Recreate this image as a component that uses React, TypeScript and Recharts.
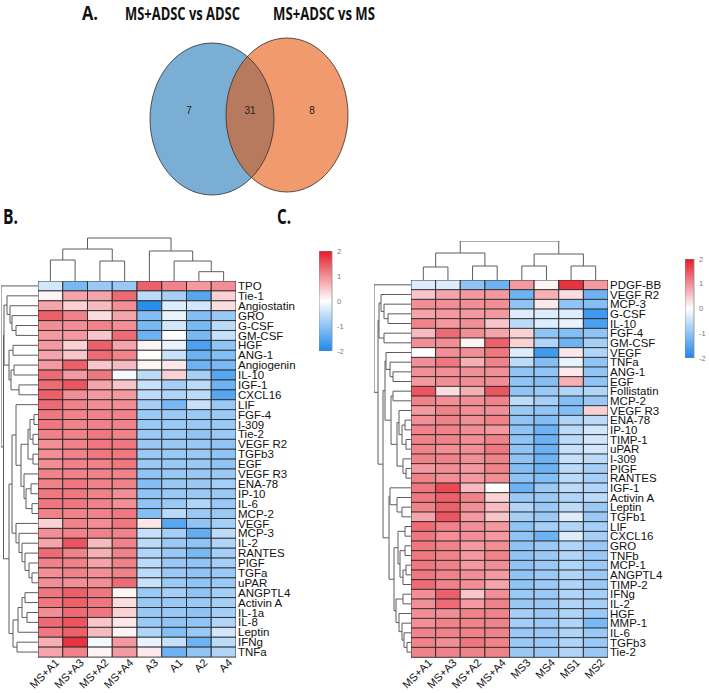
import React from "react";
import {
  Bar,
  BarChart,
  Cell,
  Line,
  LineChart,
  Scatter,
  ScatterChart,
  XAxis,
  YAxis,
} from "recharts";

// ---- Venn (panel A) ----
const setTitles = ["MS+ADSC vs ADSC", "MS+ADSC vs MS"];
const vennCounts = ["7", "31", "8"];

// ---- heatmap B: MS+ADSC vs ADSC ----
const colsB = ["MS+A1", "MS+A3", "MS+A2", "MS+A4", "A3", "A1", "A2", "A4"];
const rowsB = [
  "TPO", "Tie-1", "Angiostatin", "GRO", "G-CSF", "GM-CSF", "HGF", "ANG-1",
  "Angiogenin", "IL-10", "IGF-1", "CXCL16", "LIF", "FGF-4", "I-309", "Tie-2",
  "VEGF R2", "TGFb3", "EGF", "VEGF R3", "ENA-78", "IP-10", "IL-6", "MCP-2",
  "VEGF", "MCP-3", "IL-2", "RANTES", "PIGF", "TGFa", "uPAR", "ANGPTL4",
  "Activin A", "IL-1a", "IL-8", "Leptin", "IFNg", "TNFa",
];
const valuesB: number[][] = [
  [-0.4, -1.2, -0.9, -0.9, 1.4, 1.1, 0.9, 1.0],
  [0.1, 0.8, 0.8, 1.3, -0.6, -0.8, -1.5, 0.4],
  [0.8, 0.4, 0.6, 1.0, -1.9, -0.3, -0.4, 0.3],
  [1.4, 1.1, 0.3, 0.8, -1.1, -0.2, -1.1, -0.9],
  [1.0, 1.0, 1.1, 1.0, -1.2, -0.4, -1.2, -0.6],
  [0.9, 0.9, 0.5, 1.3, -1.3, 0.0, -1.2, -0.5],
  [0.9, 0.4, 1.4, 0.8, 0.1, -0.2, -1.6, -1.0],
  [0.8, 0.5, 1.3, 1.1, 0.0, -0.5, -1.3, -1.1],
  [0.9, 1.4, 0.5, 0.6, 0.1, 0.2, -1.3, -1.2],
  [1.3, 0.9, 1.2, -0.1, -0.6, 0.4, -0.8, -1.5],
  [1.3, 1.5, 0.8, 0.5, -0.5, -0.8, -0.6, -1.3],
  [1.4, 1.0, 0.9, 0.9, -0.6, -0.7, -0.6, -1.5],
  [1.3, 1.1, 1.0, 1.0, -0.8, -1.2, -0.5, -0.9],
  [1.2, 1.1, 1.1, 1.1, -0.9, -0.9, -0.9, -0.9],
  [1.2, 1.1, 1.1, 1.1, -0.9, -0.9, -0.9, -0.9],
  [1.1, 1.1, 1.2, 1.1, -0.9, -0.9, -1.0, -0.9],
  [1.0, 1.1, 1.2, 1.2, -0.9, -0.9, -0.9, -1.0],
  [1.0, 1.1, 1.2, 1.2, -0.9, -0.9, -0.9, -1.0],
  [1.0, 1.1, 1.1, 1.2, -0.9, -0.9, -0.9, -1.0],
  [1.1, 1.1, 1.1, 1.1, -1.0, -0.9, -0.9, -0.9],
  [1.1, 1.2, 1.1, 1.1, -1.1, -0.9, -0.9, -0.8],
  [1.2, 1.2, 1.1, 1.0, -1.0, -0.9, -0.9, -0.9],
  [1.2, 1.2, 1.1, 1.0, -1.0, -0.9, -0.7, -0.9],
  [1.1, 1.1, 1.1, 1.2, -1.1, -0.6, -0.9, -0.9],
  [0.4, 1.1, 1.0, 1.2, 0.2, -1.5, -1.0, -0.8],
  [1.0, 1.1, 1.1, 1.1, -0.5, -0.8, -1.4, -0.6],
  [0.8, 1.5, 0.6, 1.1, -0.6, -0.9, -1.0, -0.7],
  [1.3, 1.1, 0.7, 1.1, -0.7, -0.9, -1.2, -0.8],
  [1.1, 1.1, 0.8, 1.1, -0.6, -0.9, -1.0, -0.8],
  [1.0, 1.1, 1.0, 1.1, -0.6, -0.9, -1.0, -0.9],
  [1.0, 1.0, 1.0, 1.3, -0.5, -0.9, -1.0, -0.9],
  [1.2, 1.4, 1.2, 0.1, -0.9, -0.8, -1.0, -0.8],
  [1.2, 1.4, 1.2, 0.3, -0.9, -0.9, -0.9, -0.8],
  [1.0, 1.3, 1.2, 0.4, -0.9, -0.9, -1.0, -0.8],
  [1.3, 1.5, 0.5, 0.2, -0.9, -1.0, -1.0, -0.7],
  [1.2, 1.4, 0.6, 0.1, -0.7, -1.1, -0.9, -0.4],
  [0.7, 1.8, -0.1, 0.9, -0.2, -0.5, -1.3, -0.6],
  [0.8, 1.1, 0.1, 0.9, 0.2, -1.3, -1.0, -0.7],
];

// ---- heatmap C: MS+ADSC vs MS ----
const colsC = ["MS+A1", "MS+A3", "MS+A2", "MS+A4", "MS3", "MS4", "MS1", "MS2"];
const rowsC = [
  "PDGF-BB", "VEGF R2", "MCP-3", "G-CSF", "IL-10", "FGF-4", "GM-CSF", "VEGF",
  "TNFa", "ANG-1", "EGF", "Follistatin", "MCP-2", "VEGF R3", "ENA-78", "IP-10",
  "TIMP-1", "uPAR", "I-309", "PIGF", "RANTES", "IGF-1", "Activin A", "Leptin",
  "TGFb1", "LIF", "CXCL16", "GRO", "TNFb", "MCP-1", "ANGPTL4", "TIMP-2",
  "IFNg", "IL-2", "HGF", "MMP-1", "IL-6", "TGFb3", "Tie-2",
];
const valuesC: number[][] = [
  [-0.3, -0.3, -1.0, -1.3, 0.9, 0.1, 1.8, 0.9],
  [0.5, 0.8, 0.9, 0.9, -1.3, 0.7, 0.3, -1.3],
  [1.0, 1.0, 1.0, 1.0, -1.0, 0.2, -1.0, -1.1],
  [0.8, 0.9, 0.9, 0.9, -0.3, -0.3, -0.3, -1.7],
  [1.1, 0.9, 1.0, 0.5, -0.6, -0.3, -0.2, -1.6],
  [0.6, 1.3, 1.0, 0.8, 0.4, -1.0, -1.1, -1.0],
  [1.0, 1.0, 0.1, 1.4, 0.4, -0.7, -1.3, -0.8],
  [0.0, 1.0, 1.0, 1.2, -0.3, -1.7, 0.2, -0.7],
  [1.0, 1.2, 0.7, 1.1, -0.6, -1.1, -0.2, -1.0],
  [1.0, 1.0, 1.0, 1.0, -1.0, -1.0, 0.2, -1.0],
  [0.9, 1.0, 1.0, 1.0, -1.0, -1.1, 0.7, -1.0],
  [1.5, 0.3, 0.7, 1.5, -1.0, -0.9, -0.7, -0.7],
  [1.1, 1.0, 1.0, 1.1, -0.6, -0.8, -1.1, -0.9],
  [0.9, 1.1, 1.0, 1.0, -0.9, -1.0, -1.1, 0.4],
  [1.0, 1.1, 1.0, 1.1, -1.0, -1.1, -0.7, -0.6],
  [1.1, 1.1, 1.0, 0.9, -1.0, -1.3, -0.6, -0.4],
  [1.1, 1.1, 1.0, 1.1, -1.0, -1.3, -0.6, -0.4],
  [1.1, 1.0, 1.0, 1.2, -1.0, -1.3, -0.5, -0.4],
  [1.1, 1.1, 1.0, 1.1, -1.0, -1.3, -0.5, -0.6],
  [0.9, 1.0, 0.9, 1.1, -1.1, -1.3, -0.6, -0.8],
  [1.1, 1.0, 0.9, 1.0, -1.0, -1.1, -0.6, -0.8],
  [1.2, 1.6, 0.6, 0.0, -1.3, -0.9, -0.6, -0.7],
  [1.2, 1.4, 1.1, 0.4, -0.9, -0.9, -0.7, -0.6],
  [1.1, 1.4, 1.0, 0.6, -0.7, -0.9, -0.6, -0.9],
  [0.8, 1.5, 0.9, 0.5, -0.8, -0.9, -0.3, -0.9],
  [1.3, 1.1, 1.0, 0.9, -1.0, -0.8, -0.7, -0.8],
  [1.2, 1.0, 1.0, 0.9, -1.0, -1.3, -0.3, -0.8],
  [1.2, 1.1, 0.9, 1.0, -1.0, -0.9, -0.7, -0.9],
  [1.2, 1.1, 0.9, 1.1, -1.0, -0.9, -0.7, -0.9],
  [1.2, 1.1, 0.9, 1.0, -1.0, -0.9, -0.7, -0.9],
  [1.2, 1.1, 1.0, 0.9, -1.0, -0.9, -0.7, -0.9],
  [1.3, 1.1, 1.0, 0.8, -1.0, -0.9, -0.7, -0.9],
  [1.0, 1.4, 0.5, 1.0, -0.9, -0.9, -0.7, -0.8],
  [1.0, 1.3, 0.9, 1.1, -0.9, -0.9, -0.7, -0.8],
  [1.0, 1.0, 1.1, 1.1, -0.8, -0.9, -0.7, -0.9],
  [1.0, 1.1, 1.1, 1.1, -0.8, -0.9, -0.7, -1.2],
  [1.1, 1.1, 1.1, 1.1, -0.9, -0.9, -0.7, -0.9],
  [1.1, 1.0, 1.2, 1.1, -0.9, -0.9, -0.7, -0.9],
  [1.1, 1.1, 1.1, 1.1, -0.9, -0.9, -0.7, -0.9],
];

// dendrograms: [left, right, height]; number = leaf index, "#k" = k-th merge
type Ref = number | string;
type Merge = [Ref, Ref, number];

const colTreeB: Merge[] = [
  [0, 1, 21], [2, 3, 20], ["#0", "#1", 32], [6, 7, 9.3],
  [5, "#3", 20], [4, "#4", 30], ["#2", "#5", 43],
];
const colTreeC: Merge[] = [
  [0, 1, 13], [2, 3, 14], ["#0", "#1", 27], [4, 5, 14],
  [6, 7, 14], ["#3", "#4", 26], ["#2", "#5", 39],
];
const rowTreeB: Merge[] = [
  [4, 5, 22], [3, "#0", 26], [2, "#1", 28], [1, "#2", 31],
  [6, 7, 25], [8, 9, 24], [10, 11, 19], ["#5", "#6", 27],
  ["#4", "#7", 29], ["#3", "#8", 34], [13, 14, 4], [15, 16, 5],
  ["#10", "#11", 8], [17, 18, 5], ["#12", "#13", 10], [20, 21, 7],
  [22, 23, 6], ["#15", "#16", 12], [19, "#17", 14], ["#14", "#18", 17],
  [12, "#19", 22], [29, 30, 6], [28, "#21", 9], [27, "#22", 13],
  [26, "#23", 16], [25, "#24", 19], [24, "#25", 22], ["#20", "#26", 26],
  [31, 32, 13], [33, 34, 11], ["#28", "#29", 16], ["#30", 35, 20],
  [36, 37, 21], ["#31", "#32", 25], ["#27", "#33", 29], ["#9", "#34", 34.5],
  [0, "#35", 37],
];
const rowTreeC: Merge[] = [
  [3, 4, 23], [2, "#0", 27], [1, "#1", 30], [5, 6, 27],
  ["#2", "#3", 32], [9, 10, 18], [8, "#5", 21], [7, "#6", 25],
  [11, 12, 18], [14, 15, 6], [16, 17, 5], ["#9", "#10", 9],
  [13, "#11", 12], [19, 20, 5], [18, "#13", 8], ["#12", "#14", 14],
  ["#8", "#15", 20], ["#7", "#16", 26], [23, 24, 9], [22, "#18", 14],
  [21, "#19", 21], [25, 26, 6], [27, 28, 6], [29, 30, 5],
  ["#23", 31, 8], ["#22", "#24", 11], ["#21", "#25", 13], [32, 33, 8],
  [37, 38, 4], [36, "#28", 7], [35, "#29", 9], [34, "#30", 12],
  ["#27", "#31", 15], ["#26", "#32", 17], ["#20", "#33", 22], ["#17", "#34", 28],
  ["#4", "#35", 33], [0, "#36", 37],
];

const colorbarTicks = [-2, -1, 0, 1, 2];

const FONT = '"Liberation Sans", Arial, sans-serif';
const LOW = [30, 136, 235];
const HIGH = [228, 28, 42];

function heat(v: number) {
  const t = Math.max(-1, Math.min(1, v / 2));
  const end = t < 0 ? LOW : HIGH;
  const f = Math.abs(t);
  const c = end.map((e) => Math.round(255 + (e - 255) * f));
  return `rgb(${c.join(",")})`;
}

function dendroPoints(merges: Merge[], rowWise: boolean) {
  const pos: number[] = [];
  const hgt: number[] = [];
  const p = (r: Ref) => (typeof r === "number" ? r + 0.5 : pos[+r.slice(1)]);
  const h = (r: Ref) => (typeof r === "number" ? 0 : hgt[+r.slice(1)]);
  const out: { x: number; y: number | null }[] = [];
  const add = (hh: number, pp: number) =>
    out.push(rowWise ? { x: hh, y: pp } : { x: pp, y: hh });
  merges.forEach(([a, b, height], k) => {
    add(h(a), p(a));
    add(height, p(a));
    add(height, p(b));
    add(h(b), p(b));
    out.push({ x: rowWise ? height : p(b), y: null });
    pos[k] = (p(a) + p(b)) / 2;
    hgt[k] = height;
  });
  return out;
}

function Dendrogram({
  merges, nLeaves, maxH, rowWise, left, top, width, height,
}: {
  merges: Merge[]; nLeaves: number; maxH: number; rowWise: boolean;
  left: number; top: number; width: number; height: number;
}) {
  const data = dendroPoints(merges, rowWise);
  return (
    <div style={{ position: "absolute", left: left - 1, top: top - 1 }}>
      <LineChart width={width + 2} height={height + 2} data={data}
        margin={{ top: 1, right: 1, bottom: 1, left: 1 }}>
        <XAxis type="number" dataKey="x" hide allowDataOverflow
          domain={rowWise ? [0, maxH] : [0, nLeaves]} reversed={rowWise} />
        <YAxis type="number" hide allowDataOverflow
          domain={rowWise ? [0, nLeaves] : [0, maxH]} reversed={rowWise} />
        <Line dataKey="y" stroke="#5c5c5c" strokeWidth={1} dot={false}
          connectNulls={false} isAnimationActive={false} />
      </LineChart>
    </div>
  );
}

const LABEL_W = 80;
const AXIS_H = 50;
const PAD_L = 24;

function Heatmap({
  rows, cols, values, left, top, width, height,
}: {
  rows: string[]; cols: string[]; values: number[][];
  left: number; top: number; width: number; height: number;
}) {
  const data = rows.map((name) => {
    const o: Record<string, string | number> = { name };
    cols.forEach((_, j) => (o["c" + j] = 1));
    return o;
  });
  return (
    <div style={{ position: "absolute", left: left - PAD_L, top }}>
      <BarChart layout="vertical" width={width + LABEL_W + PAD_L} height={height + AXIS_H}
        data={data} margin={{ top: 0, right: 0, bottom: 0, left: PAD_L }}
        barCategoryGap={0} barGap={0}>
        <XAxis type="number" domain={[0, cols.length]} allowDataOverflow
          ticks={cols.map((_, j) => j + 0.5)}
          tickFormatter={(v: number) => cols[Math.floor(v)]}
          interval={0} angle={-45} textAnchor="end" height={AXIS_H}
          tickLine={false} axisLine={false} tickSize={0} tickMargin={1}
          tick={{ fontSize: 11, fill: "#111", fontFamily: FONT, dx: 4 }} />
        <YAxis type="category" dataKey="name" orientation="right" width={LABEL_W}
          interval={0} tickLine={false} axisLine={false} tickSize={0} tickMargin={2}
          tick={{ fontSize: 11.5, fill: "#111", fontFamily: FONT }} />
        {cols.map((c, j) => (
          <Bar key={c} dataKey={"c" + j} stackId="s" isAnimationActive={false}
            stroke="#262626" strokeWidth={0.9}>
            {rows.map((r, i) => (
              <Cell key={r} fill={heat(values[i][j])} />
            ))}
          </Bar>
        ))}
      </BarChart>
    </div>
  );
}

function ColorBar({ left, top, width, height }: {
  left: number; top: number; width: number; height: number;
}) {
  return (
    <div style={{ position: "absolute", left, top: top - 5 }}>
      <BarChart width={width + 20} height={height + 10}
        data={[{ name: "bar", v: [colorbarTicks[0], colorbarTicks[colorbarTicks.length - 1]] }]}
        margin={{ top: 5, right: 0, bottom: 5, left: 0 }} barCategoryGap={0}>
        <XAxis type="category" dataKey="name" hide />
        <YAxis type="number" orientation="right" width={20} allowDataOverflow
          domain={[colorbarTicks[0], colorbarTicks[colorbarTicks.length - 1]]}
          ticks={colorbarTicks} interval={0} tickLine={false} axisLine={false}
          tickSize={0} tickMargin={5}
          tick={{ fontSize: 7.5, fill: "#777", fontFamily: FONT }} />
        <Bar dataKey="v" fill="url(#heatGrad)" stroke="#8a8a8a" strokeWidth={0.8}
          isAnimationActive={false} />
      </BarChart>
    </div>
  );
}

// ellipse sets, in pixel-equivalent data units of the venn chart
const vennSets = [
  { x: 212, y: 119, rx: 62, ry: 76, fill: "#7aaed4" },
  { x: 287, y: 115, rx: 61, ry: 77, fill: "#f09a6e" },
];
const vennLabelPos = [
  { x: 189, y: 110 },
  { x: 250, y: 110 },
  { x: 312, y: 110 },
];

function VennShape(props: any) {
  const { cx, cy, payload, index } = props;
  const ox = cx - payload.x;
  const oy = cy - payload.y;
  const a = vennSets[0];
  if (index === 0) {
    return <ellipse cx={cx} cy={cy} rx={payload.rx} ry={payload.ry} fill={payload.fill} />;
  }
  return (
    <g>
      <defs>
        <clipPath id="vennClipA">
          <ellipse cx={a.x + ox} cy={a.y + oy} rx={a.rx} ry={a.ry} />
        </clipPath>
      </defs>
      <ellipse cx={cx} cy={cy} rx={payload.rx} ry={payload.ry} fill={payload.fill} />
      <ellipse cx={cx} cy={cy} rx={payload.rx} ry={payload.ry} fill="#b87a5e"
        clipPath="url(#vennClipA)" />
      <ellipse cx={a.x + ox} cy={a.y + oy} rx={a.rx} ry={a.ry} fill="none"
        stroke="#2f2f2f" strokeWidth={0.8} />
      <ellipse cx={cx} cy={cy} rx={payload.rx} ry={payload.ry} fill="none"
        stroke="#2f2f2f" strokeWidth={0.8} />
    </g>
  );
}

function VennLabel(props: any) {
  const { cx, cy, payload } = props;
  return (
    <text x={cx} y={cy + 3.5} textAnchor="middle" fontSize={10} fill="#222"
      fontFamily={FONT}>
      {payload.label}
    </text>
  );
}

function Venn() {
  const labels = vennLabelPos.map((p, i) => ({ ...p, label: vennCounts[i] }));
  return (
    <div style={{ position: "absolute", left: 0, top: 0 }}>
      <ScatterChart width={709} height={230} margin={{ top: 0, right: 0, bottom: 0, left: 0 }}>
        <XAxis type="number" dataKey="x" hide domain={[0, 709]} allowDataOverflow />
        <YAxis type="number" dataKey="y" hide domain={[0, 230]} reversed allowDataOverflow />
        <Scatter data={vennSets} shape={VennShape} isAnimationActive={false} />
        <Scatter data={labels} shape={VennLabel} isAnimationActive={false} />
      </ScatterChart>
    </div>
  );
}

export default function App() {
  const grad = [2, 1.5, 1, 0.5, 0, -0.5, -1, -1.5, -2];
  return (
    <div style={{ position: "absolute", left: 0, top: 0, width: 709, height: 693,
      background: "#fff", overflow: "hidden" }}>
      <svg width={0} height={0} style={{ position: "absolute" }}>
        <defs>
          <linearGradient id="heatGrad" x1="0" y1="0" x2="0" y2="1">
            {grad.map((g, i) => (
              <stop key={g} offset={i / (grad.length - 1)} stopColor={heat(g)} />
            ))}
          </linearGradient>
        </defs>
      </svg>
      <Venn />
      <svg width={709} height={230} style={{ position: "absolute", left: 0, top: 0 }}>
        <g fontFamily='"Open Sans", "Liberation Sans", sans-serif' fontWeight={700} fill="#111">
          <text x={82} y={20} fontSize={20} textLength={16} lengthAdjust="spacingAndGlyphs">A.</text>
          <text x={125} y={20} fontSize={17} textLength={115} lengthAdjust="spacingAndGlyphs">{setTitles[0]}</text>
          <text x={273} y={20} fontSize={17} textLength={102} lengthAdjust="spacingAndGlyphs">{setTitles[1]}</text>
          <text x={3} y={224} fontSize={22} textLength={15} lengthAdjust="spacingAndGlyphs">B.</text>
          <text x={277} y={224} fontSize={22} textLength={14} lengthAdjust="spacingAndGlyphs">C.</text>
        </g>
      </svg>

      <Dendrogram merges={colTreeB} nLeaves={colsB.length} maxH={44} rowWise={false}
        left={38} top={237} width={198} height={44} />
      <Dendrogram merges={rowTreeB} nLeaves={rowsB.length} maxH={37} rowWise
        left={1} top={281} width={37} height={376} />
      <Heatmap rows={rowsB} cols={colsB} values={valuesB}
        left={38} top={281} width={198} height={376} />
      <ColorBar left={319} top={251} width={13} height={100} />

      <Dendrogram merges={colTreeC} nLeaves={colsC.length} maxH={39} rowWise={false}
        left={411} top={241} width={197} height={39} />
      <Dendrogram merges={rowTreeC} nLeaves={rowsC.length} maxH={37} rowWise
        left={374} top={280} width={37} height={377} />
      <Heatmap rows={rowsC} cols={colsC} values={valuesC}
        left={411} top={280} width={197} height={377} />
      <ColorBar left={685} top={259} width={9} height={99} />
    </div>
  );
}
